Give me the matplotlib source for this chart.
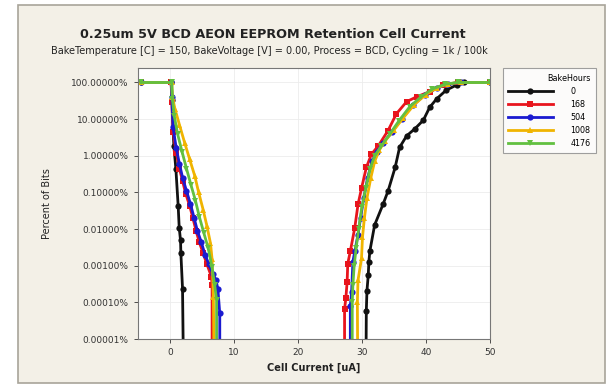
import matplotlib

matplotlib.use("Agg")

import matplotlib.pyplot as plt
from matplotlib.patches import Rectangle
from matplotlib.ticker import FixedLocator, FuncFormatter


TITLE = "0.25um 5V BCD AEON EEPROM Retention Cell Current"
SUBTITLE = "BakeTemperature [C] = 150, BakeVoltage [V] = 0.00, Process = BCD, Cycling = 1k / 100k"

bake_hours = ["0", "168", "504", "1008", "4176"]
series_colors = ["#111111", "#e8141c", "#1a1ad0", "#f0b400", "#62c040"]
series_markers = ["o", "s", "o", "^", "v"]

# left tail (erased cells): cell current [uA], percent of bits
left_x = {
    "0": [-4.5, 0.2, 0.4, 0.52, 0.63, 0.94, 1.3, 1.46, 1.67, 1.72, 1.98, 2.2],
    "168": [-4.5, 0.2, 0.3, 0.5, 1.0, 1.5, 2.0, 2.5, 3.1, 3.6, 4.1, 4.6, 5.2, 5.8, 6.5, 6.6, 6.6],
    "504": [-4.5, 0.2, 0.3, 0.5, 1.0, 1.5, 2.0, 2.6, 3.2, 3.8, 4.3, 4.9, 5.5, 6.1, 6.7, 7.2, 7.5,
            7.8, 7.8],
    "1008": [-4.5, 0.3, 0.4, 0.8, 1.5, 2.3, 3.1, 3.9, 4.5, 5.2, 5.8, 6.35, 6.6, 6.8, 7.0],
    "4176": [-4.5, 0.3, 0.4, 0.7, 1.2, 1.9, 2.6, 3.3, 4.0, 4.6, 5.3, 6.0, 6.6, 7.0, 7.3, 7.3],
}
left_pct = {
    "0": [100, 100, 33, 4.5, 1.8, 0.44, 0.043, 0.011, 0.0049, 0.0022, 0.00024, 1e-7],
    "168": [100, 100, 30, 4.5, 1.2, 0.45, 0.2, 0.09, 0.043, 0.02, 0.009, 0.0044, 0.0022, 0.0011,
            0.0005, 0.0003, 1e-7],
    "504": [100, 100, 40, 6, 1.6, 0.6, 0.25, 0.11, 0.05, 0.02, 0.009, 0.0045, 0.002, 0.0011,
            0.0006, 0.0004, 0.00024, 0.00005, 1e-7],
    "1008": [100, 100, 40, 19, 7, 2.3, 0.8, 0.28, 0.1, 0.034, 0.012, 0.0041, 0.0015, 0.00014, 1e-7],
    "4176": [100, 100, 35, 12, 4, 1.3, 0.45, 0.16, 0.06, 0.022, 0.008, 0.003, 0.0009, 0.0003,
             0.00012, 1e-7],
}

# right tail (programmed cells)
right_x = {
    "0": [30.6, 30.7, 30.8, 31.0, 31.1, 31.25, 32.0, 33.3, 34.1, 35.2, 35.9, 37.0, 38.3, 39.6,
          40.6, 41.7, 43.2, 44.8, 46.0, 50.0],
    "168": [27.3, 27.3, 27.5, 27.7, 27.8, 28.2, 28.9, 29.4, 29.95, 30.7, 31.5, 32.6, 34.1, 35.4,
            37.0, 38.6, 40.6, 42.7, 45.0, 50.0],
    "504": [28.2, 28.2, 28.4, 28.6, 28.9, 29.4, 29.8, 30.3, 30.9, 31.6, 32.3, 33.3, 34.7, 36.2,
            38.0, 39.8, 41.7, 43.5, 45.5, 50.0],
    "1008": [29.4, 29.3, 29.4, 29.95, 30.1, 30.4, 30.8, 31.4, 32.0, 32.7, 33.6, 35.0, 36.5, 38.2,
             40.0, 41.8, 43.5, 45.5, 50.0],
    "4176": [28.5, 28.5, 28.6, 28.8, 29.1, 29.5, 30.0, 30.6, 31.3, 32.0, 33.0, 34.4, 35.8, 37.5,
             39.2, 41.0, 43.0, 45.0, 50.0],
}
right_pct = {
    "0": [1e-7, 6e-5, 2.1e-4, 5.5e-4, 0.0013, 0.0025, 0.013, 0.047, 0.11, 0.48, 1.7, 3.5, 5.5,
          9.3, 21, 36, 62, 85, 100, 100],
    "168": [1e-7, 6.6e-5, 1.3e-4, 3.6e-4, 0.00115, 0.0025, 0.011, 0.047, 0.13, 0.48, 1.1, 1.9, 4.9,
            14, 30, 41, 56, 85, 100, 100],
    "504": [1e-7, 8e-5, 1.9e-4, 0.0013, 0.0025, 0.007, 0.02, 0.07, 0.25, 0.7, 1.3, 2.2, 4.5, 10,
            24, 45, 70, 92, 100, 100],
    "1008": [1e-7, 1e-4, 4e-4, 0.0016, 0.006, 0.02, 0.07, 0.25, 0.7, 1.4, 2.5, 5, 11, 25, 47, 72,
             93, 100, 100],
    "4176": [1e-7, 1e-4, 3e-4, 0.001, 0.003, 0.01, 0.04, 0.13, 0.45, 1.0, 1.8, 4, 9, 22, 40, 66,
             90, 100, 100],
}

y_ticks = [100, 10, 1, 0.1, 0.01, 0.001, 0.0001, 0.00001]
x_ticks = [0, 10, 20, 30, 40, 50]


fig = plt.figure(figsize=(6.1, 3.88), dpi=100)
fig.patch.set_facecolor("white")
fig.patches.append(Rectangle((0.03, 0.012), 0.962, 0.975, transform=fig.transFigure,
                             facecolor="#f3f0e7", edgecolor="#a8a49a", linewidth=1.2,
                             zorder=-10))

ax = fig.add_axes([0.226, 0.126, 0.577, 0.699])
ax.set_facecolor("white")

for name, color, marker in zip(bake_hours, series_colors, series_markers):
    for xs, ys, lab in ((left_x[name], left_pct[name], name), (right_x[name], right_pct[name], None)):
        ax.plot(xs, ys, color=color, linewidth=2.0, marker=marker, markersize=4.5,
                markeredgewidth=0, label=lab)

ax.set_yscale("log")
ax.set_xlim(-5, 50)
ax.set_ylim(1e-5, 250)
ax.xaxis.set_major_locator(FixedLocator(x_ticks))
ax.yaxis.set_major_locator(FixedLocator(y_ticks))
ax.yaxis.set_minor_locator(FixedLocator([]))
ax.yaxis.set_major_formatter(FuncFormatter(lambda v, p: f"{v:.5f}%"))
ax.tick_params(labelsize=6.5, colors="#333333", length=3, width=0.6)
ax.grid(True, color="#ececec", linewidth=0.6)
ax.set_axisbelow(True)
for spine in ax.spines.values():
    spine.set_color("#777777")
    spine.set_linewidth(0.8)

ax.set_xlabel("Cell Current [uA]", fontsize=7, fontweight="bold", color="#222222", labelpad=4)
ax.set_ylabel("Percent of Bits", fontsize=7, color="#222222", labelpad=14)

fig.text(0.448, 0.912, TITLE, ha="center", va="center", fontsize=9.2, fontweight="bold",
         color="#222222")
fig.text(0.441, 0.868, SUBTITLE, ha="center", va="center", fontsize=7.0, color="#222222")

leg = fig.legend(loc="upper left", bbox_to_anchor=(0.824, 0.825), title="BakeHours",
                 fontsize=5.8, title_fontsize=5.8, frameon=True, fancybox=False,
                 handlelength=5.5, borderpad=0.7, labelspacing=0.5, alignment="right",
                 handletextpad=2.2, borderaxespad=0)
leg.get_frame().set_edgecolor("#888888")
leg.get_frame().set_facecolor("white")
leg.get_frame().set_linewidth(0.8)

fig.savefig("out.png", dpi=100)
